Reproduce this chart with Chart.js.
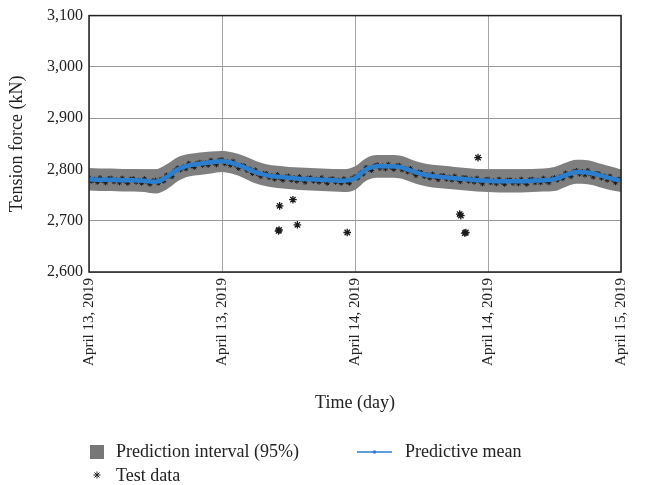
<!DOCTYPE html>
<html>
<head>
<meta charset="utf-8">
<title>Tension force</title>
<script src="https://cdn.jsdelivr.net/npm/chart.js@4.4.1/dist/chart.umd.min.js"></script>
<style>
    body { margin: 0; background: #fff; }
    #grafico { display: block; }
</style>
</head>
<body>
<canvas id="grafico" width="645" height="485"></canvas>
<script>
// ================== DADOS ==================

// Rótulos do eixo X (um a cada 12 horas)
const rotulosX = ['April 13, 2019', 'April 13, 2019', 'April 14, 2019', 'April 14, 2019', 'April 15, 2019'];

// Horas da previsão (0 a 48 h)
const horas = [0, 1, 2, 3, 4, 5, 6, 7, 8, 9, 10, 11, 12, 13, 14, 15, 16, 17, 18, 19, 20, 21, 22, 23, 24,
               25, 26, 27, 28, 29, 30, 31, 32, 33, 34, 35, 36, 37, 38, 39, 40, 41, 42, 43, 44, 45, 46, 47, 48];

// Média preditiva (kN)
const mediaPreditiva = [2781, 2780, 2780, 2779, 2779, 2778, 2776, 2785, 2800, 2808, 2811, 2814, 2816,
                        2812, 2804, 2795, 2789, 2786, 2784, 2782, 2781, 2780, 2779, 2778, 2783,
                        2800, 2806, 2806, 2805, 2798, 2791, 2787, 2785, 2783, 2781, 2779, 2778,
                        2777, 2777, 2777, 2778, 2779, 2781, 2789, 2795, 2794, 2789, 2783, 2778];

// Intervalo de predição de 95% (limites superior e inferior)
const limiteSuperior = [2803, 2802, 2802, 2801, 2801, 2800, 2800, 2810, 2824, 2830, 2833, 2835, 2836,
                        2833, 2826, 2817, 2810, 2807, 2805, 2804, 2803, 2802, 2801, 2800, 2806,
                        2822, 2828, 2828, 2827, 2820, 2813, 2809, 2807, 2805, 2803, 2801, 2800,
                        2800, 2800, 2800, 2801, 2802, 2805, 2813, 2819, 2818, 2812, 2806, 2800];
const limiteInferior = [2759, 2758, 2758, 2757, 2757, 2756, 2753, 2761, 2777, 2786, 2789, 2792, 2795,
                        2791, 2783, 2773, 2767, 2764, 2762, 2760, 2759, 2758, 2757, 2756, 2760,
                        2778, 2784, 2784, 2783, 2776, 2769, 2765, 2763, 2761, 2759, 2757, 2756,
                        2755, 2755, 2755, 2756, 2757, 2758, 2766, 2772, 2771, 2766, 2760, 2756];

// Dados de teste: uma leitura a cada 15 minutos (4 por hora)
const passoTeste = 0.25;
const valoresTeste = [
    2784, 2777, 2781, 2775,  2784, 2778, 2774, 2782,  2783, 2776, 2780, 2774,  2783, 2777, 2773, 2781,
    2782, 2775, 2779, 2773,  2782, 2776, 2771, 2778,  2779, 2773, 2781, 2777,  2789, 2787, 2786, 2798,
    2803, 2799, 2805, 2801,  2812, 2807, 2804, 2812,  2814, 2808, 2813, 2808,  2818, 2813, 2809, 2818,
    2819, 2811, 2815, 2808,  2816, 2808, 2802, 2808,  2807, 2798, 2801, 2792,  2799, 2791, 2786, 2792,
    2792, 2784, 2788, 2781,  2790, 2783, 2779, 2786,  2787, 2779, 2784, 2777,  2786, 2780, 2775, 2783,
    2784, 2777, 2781, 2775,  2784, 2778, 2773, 2781,  2782, 2775, 2779, 2773,  2782, 2776, 2773, 2783,
    2786, 2783, 2793, 2791,  2804, 2800, 2798, 2807,  2809, 2802, 2807, 2801,  2810, 2804, 2800, 2807,
    2808, 2799, 2802, 2795,  2802, 2794, 2788, 2795,  2794, 2786, 2790, 2783,  2791, 2785, 2780, 2788,
    2788, 2781, 2785, 2779,  2787, 2781, 2776, 2784,  2784, 2777, 2781, 2775,  2783, 2777, 2772, 2780,
    2781, 2774, 2778, 2772,  2781, 2775, 2771, 2779,  2780, 2773, 2778, 2772,  2781, 2775, 2771, 2780,
    2781, 2774, 2779, 2774,  2783, 2777, 2774, 2782,  2784, 2779, 2786, 2782,  2793, 2789, 2786, 2796,
    2798, 2791, 2796, 2789,  2798, 2791, 2785, 2792,  2792, 2783, 2787, 2779,  2787, 2780, 2774, 2781,
    2781
];

// Leituras isoladas (fora do intervalo)
const horasIsoladas = [17.1, 17.15, 17.2, 18.4, 18.8, 23.3, 33.45, 33.55, 33.9, 34.0, 35.1];
const valoresIsolados = [2680, 2682, 2729, 2741, 2692, 2677, 2713, 2710, 2676, 2677, 2823];

// ================== CORES E FONTE ==================
const corFaixa = '#7f7f7f';
const corMedia = '#2c7fce';
const corTexto = '#222';
const fonte = '"Liberation Serif", "Times New Roman", serif';

// ================== MONTAGEM DOS PONTOS ==================
const pontosMedia = horas.map((h, i) => ({ x: h, y: mediaPreditiva[i] }));
const pontosSup = horas.map((h, i) => ({ x: h, y: limiteSuperior[i] }));
const pontosInf = horas.map((h, i) => ({ x: h, y: limiteInferior[i] }));
const pontosTeste = valoresTeste.map((v, i) => ({ x: i * passoTeste, y: v }));
const pontosIsolados = horasIsoladas.map((h, i) => ({ x: h, y: valoresIsolados[i] }));

// ================== PLUGIN: MOLDURA DO GRÁFICO ==================
const moldura = {
    id: 'moldura',
    afterDatasetsDraw(chart) {
        const { ctx, chartArea: a } = chart;
        ctx.save();
        ctx.strokeStyle = '#222';
        ctx.lineWidth = 1.5;
        ctx.strokeRect(a.left, a.top, a.right - a.left, a.bottom - a.top);
        ctx.restore();
    }
};

// ================== PLUGIN: LEGENDA EMBAIXO ==================
const legenda = {
    id: 'legendaEmbaixo',
    afterDraw(chart) {
        const ctx = chart.ctx;
        const ds = chart.data.datasets;
        ctx.save();
        ctx.font = '18px ' + fonte;
        ctx.textBaseline = 'middle';
        ctx.textAlign = 'left';

        // Intervalo de predição: quadrado cinza
        ctx.fillStyle = '#777';
        ctx.fillRect(90, 445, 14, 14);
        ctx.fillStyle = corTexto;
        ctx.fillText(ds[3].label, 116, 452);

        // Média preditiva: linha com ponto no meio
        ctx.strokeStyle = corMedia;
        ctx.lineWidth = 1.5;
        ctx.beginPath();
        ctx.moveTo(357, 452);
        ctx.lineTo(392, 452);
        ctx.stroke();
        ctx.fillStyle = corMedia;
        ctx.beginPath();
        ctx.arc(374.5, 452, 1.8, 0, Math.PI * 2);
        ctx.fill();
        ctx.fillStyle = corTexto;
        ctx.fillText(ds[0].label, 405, 452);

        // Dados de teste: asterisco
        ctx.strokeStyle = '#222';
        ctx.lineWidth = 1;
        Chart.helpers.drawPoint(ctx, { pointStyle: 'star', radius: 3.5, borderWidth: 1 }, 97, 475);
        ctx.fillText(ds[1].label, 116, 476);
        ctx.restore();
    }
};

// ================== GRÁFICO ==================
const ctx = document.getElementById('grafico').getContext('2d');
const grafico = new Chart(ctx, {
    type: 'scatter',
    data: {
        datasets: [
            {
                label: 'Predictive mean',
                data: pontosMedia,
                showLine: true,
                borderColor: corMedia,
                borderWidth: 4.5,
                pointRadius: 0,
                cubicInterpolationMode: 'monotone',
                order: 0
            },
            {
                label: 'Test data',
                data: pontosTeste,
                pointStyle: 'star',
                pointRadius: 2.5,
                borderColor: '#1a1a1a',
                borderWidth: 1,
                order: 1
            },
            {
                label: 'Test data (outliers)',
                data: pontosIsolados,
                pointStyle: 'star',
                pointRadius: 3.8,
                borderColor: '#1a1a1a',
                borderWidth: 1.3,
                order: 1
            },
            {
                label: 'Prediction interval (95%)',
                data: pontosSup,
                showLine: true,
                borderWidth: 0,
                borderColor: corFaixa,
                backgroundColor: corFaixa,
                pointRadius: 0,
                cubicInterpolationMode: 'monotone',
                fill: { target: 4 },
                order: 2
            },
            {
                label: 'Lower bound',
                data: pontosInf,
                showLine: true,
                borderWidth: 0,
                borderColor: corFaixa,
                pointRadius: 0,
                cubicInterpolationMode: 'monotone',
                fill: false,
                order: 3
            }
        ]
    },
    options: {
        responsive: false,
        animation: false,
        layout: { padding: { top: 15, right: 20, bottom: 67, left: 0 } },
        plugins: {
            legend: { display: false },
            tooltip: { enabled: false }
        },
        scales: {
            x: {
                type: 'linear',
                min: 0,
                max: 48,
                afterFit: s => { s.height = 146; },
                border: { display: false },
                grid: { color: '#a5a5a5', drawTicks: false },
                ticks: {
                    stepSize: 12,
                    autoSkip: false,
                    minRotation: 90,
                    maxRotation: 90,
                    padding: 6,
                    color: corTexto,
                    font: { family: fonte, size: 15 },
                    callback: v => rotulosX[v / 12]
                },
                title: {
                    display: true,
                    text: 'Time (day)',
                    color: corTexto,
                    font: { family: fonte, size: 18 },
                    padding: { top: 0, bottom: 4 }
                }
            },
            y: {
                min: 2600,
                max: 3100,
                afterFit: s => { s.width = 89; },
                border: { display: false },
                grid: { color: '#999', drawTicks: false },
                ticks: {
                    stepSize: 100,
                    padding: 6,
                    color: corTexto,
                    font: { family: fonte, size: 16 },
                    callback: v => v.toLocaleString('en-US')
                },
                title: {
                    display: true,
                    text: 'Tension force (kN)',
                    color: corTexto,
                    font: { family: fonte, size: 18 },
                    padding: { top: 6, bottom: 0 }
                }
            }
        }
    },
    plugins: [moldura, legenda]
});
</script>
</body>
</html>
